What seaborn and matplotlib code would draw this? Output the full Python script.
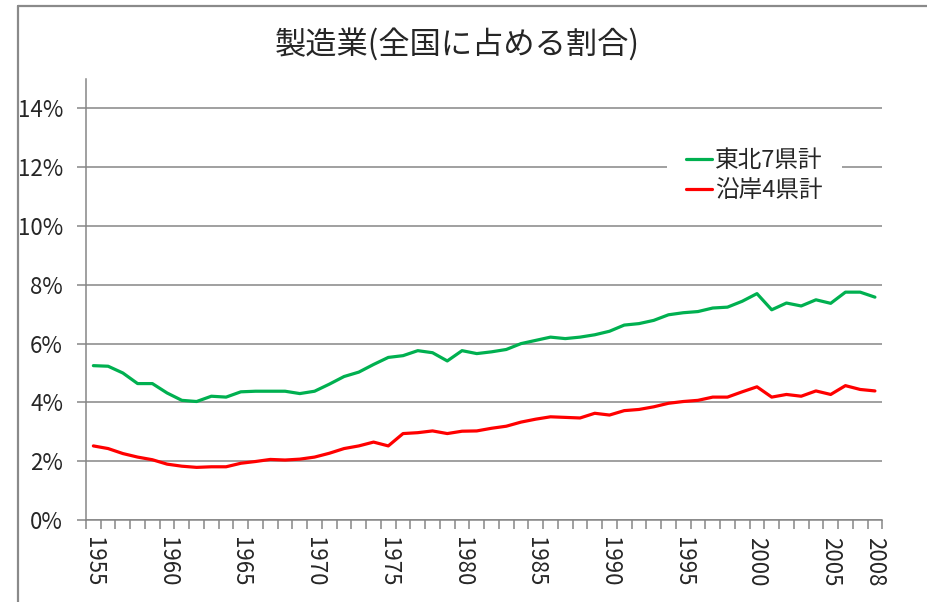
import matplotlib
matplotlib.use("Agg")
import matplotlib.pyplot as plt
import seaborn as sns
import pandas as pd
import numpy as np
from matplotlib.lines import Line2D
from matplotlib.ticker import FixedLocator, FuncFormatter

years = list(range(1955, 2009))
tohoku7 = [5.25, 5.23, 5.00, 4.64, 4.64, 4.32, 4.07, 4.03, 4.21, 4.18,
           4.36, 4.38, 4.38, 4.38, 4.30, 4.38, 4.62, 4.88, 5.03, 5.29,
           5.53, 5.59, 5.76, 5.69, 5.41, 5.76, 5.66, 5.72, 5.80, 6.00,
           6.11, 6.22, 6.17, 6.22, 6.30, 6.42, 6.63, 6.68, 6.79, 6.98,
           7.05, 7.09, 7.21, 7.24, 7.44, 7.70, 7.15, 7.38, 7.28, 7.49,
           7.37, 7.75, 7.75, 7.58]
engan4 = [2.52, 2.43, 2.26, 2.14, 2.05, 1.90, 1.83, 1.79, 1.81, 1.81,
          1.93, 1.99, 2.06, 2.04, 2.07, 2.14, 2.27, 2.43, 2.52, 2.65,
          2.52, 2.94, 2.97, 3.03, 2.94, 3.02, 3.03, 3.12, 3.19, 3.33,
          3.43, 3.51, 3.49, 3.47, 3.63, 3.57, 3.72, 3.76, 3.85, 3.97,
          4.03, 4.07, 4.18, 4.18, 4.36, 4.53, 4.18, 4.27, 4.21, 4.39,
          4.27, 4.57, 4.44, 4.39]
series_names = ["東北7県計", "沿岸4県計"]
series_colors = ["#00B050", "#FF0000"]
label_years = [1955, 1960, 1965, 1970, 1975, 1980, 1985, 1990, 1995, 2000, 2005, 2008]
y_ticks = [0, 2, 4, 6, 8, 10, 12, 14]
title = "製造業(全国に占める割合)"

sns.set_style("white")
plt.rcParams["font.family"] = ["Noto Sans CJK JP", "DejaVu Sans"]

idx = np.arange(len(years))
df = pd.concat([
    pd.DataFrame({"idx": idx, "value": tohoku7, "series": series_names[0]}),
    pd.DataFrame({"idx": idx, "value": engan4, "series": series_names[1]}),
])

W, H = 928, 602
fig = plt.figure(figsize=(W / 100, H / 100), dpi=100)
ax = fig.add_axes([86 / W, 1 - 520 / H, (882.3 - 86) / W, (520 - 79) / H])

sns.lineplot(data=df, x="idx", y="value", hue="series", hue_order=series_names,
             palette=series_colors, linewidth=2.3, ax=ax)

grid_c = "#868686"
ax.set_xlim(-0.5, len(years) - 0.5)
ax.set_ylim(0, 15)
ax.set_yticks(y_ticks)
ax.yaxis.set_major_formatter(FuncFormatter(lambda v, p: f"{v:.0f}%"))
ax.grid(axis="y", color=grid_c, linewidth=1.1)
ax.grid(axis="x", visible=False)
ax.set_axisbelow(True)
for s in ["top", "right"]:
    ax.spines[s].set_visible(False)
for s in ["left", "bottom"]:
    ax.spines[s].set_color(grid_c)
    ax.spines[s].set_linewidth(1.1)

ax.set_xticks([years.index(y) for y in label_years])
ax.set_xticklabels([str(y) for y in label_years], rotation=-90, fontsize=16)
ax.xaxis.set_minor_locator(FixedLocator(np.arange(-0.5, len(years), 1.0)))
ax.tick_params(axis="x", which="major", length=0, pad=12)
ax.tick_params(axis="x", which="minor", length=6.5, width=1.1, color=grid_c, direction="out", bottom=True)
ax.tick_params(axis="y", which="major", length=6.5, width=1.1, color=grid_c, direction="out", left=True, labelsize=16, pad=10)
ax.set_xlabel("")
ax.set_ylabel("")

h, l = ax.get_legend_handles_labels()
leg = ax.legend(h, l, loc="upper left", bbox_to_anchor=(667 / W, 1 - 130 / H),
                bbox_transform=fig.transFigure, frameon=True, fancybox=False,
                facecolor="white", edgecolor="none", framealpha=1.0, fontsize=17,
                handlelength=1.1, handletextpad=0.15, borderpad=0.8, borderaxespad=0,
                labelspacing=0.3)

fig.text(457 / W, 1 - 44 / H, title, ha="center", va="center", fontsize=22.5)

# outer chart border (partially cropped)
fig.add_artist(Line2D([18 / W, 18 / W], [0, 1 - 6 / H], transform=fig.transFigure,
                      color="#8a8a8a", linewidth=1.6))
fig.add_artist(Line2D([18 / W, 1], [1 - 6 / H, 1 - 6 / H], transform=fig.transFigure,
                      color="#8a8a8a", linewidth=1.6))

fig.savefig("out.png", dpi=100)
